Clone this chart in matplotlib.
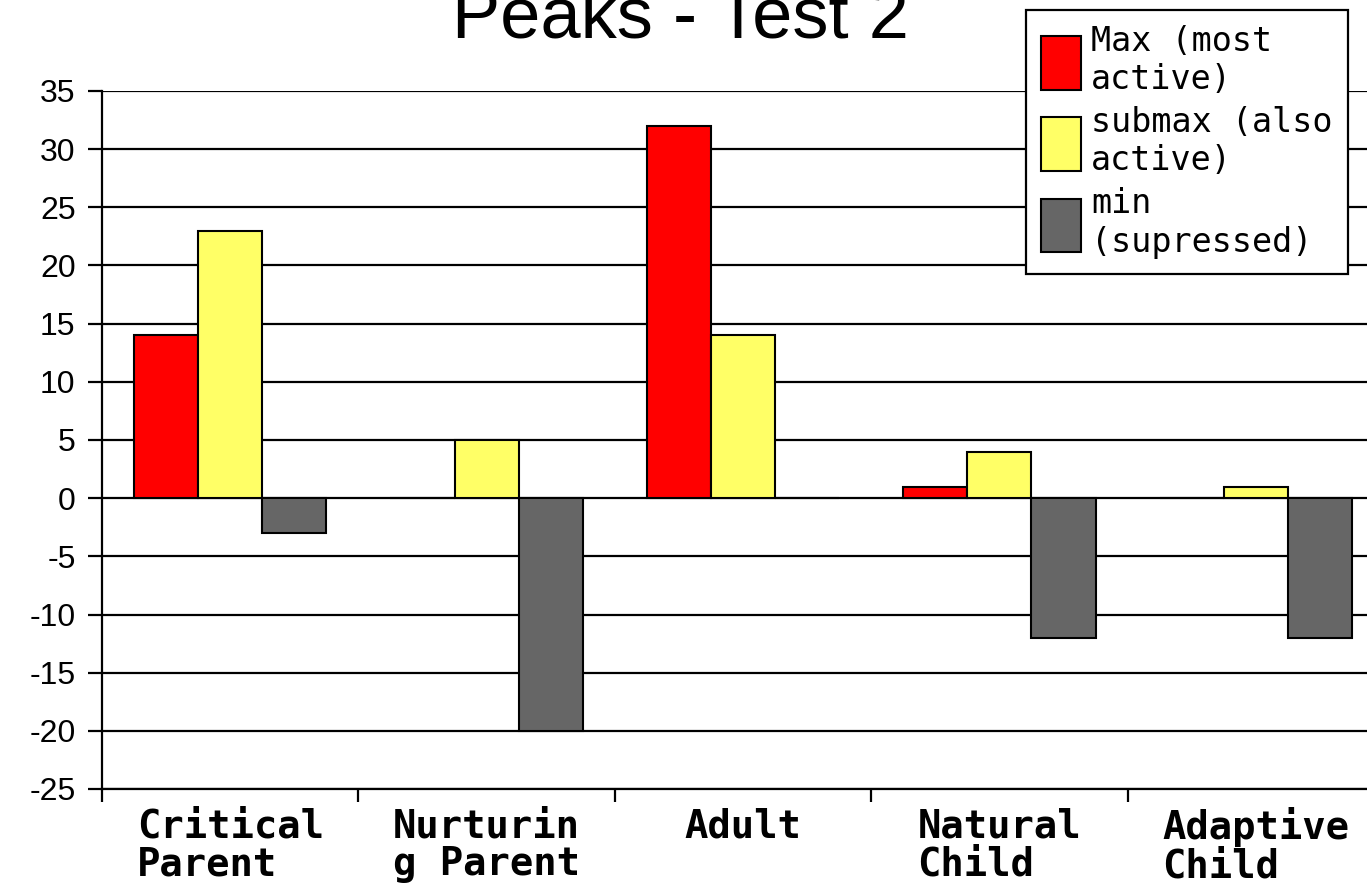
import numpy as np
import matplotlib
matplotlib.use("Agg")
import matplotlib.pyplot as plt
from matplotlib.ticker import FixedLocator, NullFormatter, FixedFormatter
from matplotlib.legend_handler import HandlerPatch
from matplotlib.patches import Rectangle

plt.rcParams["axes.unicode_minus"] = False

categories = ["Critical\nParent", "Nurturin\ng Parent", "Adult", "Natural\nChild", "Adaptive\nChild"]
max_vals = [14, 0, 32, 1, 0]
submax_vals = [23, 5, 14, 4, 1]
min_vals = [-3, -20, 0, -12, -12]
series_names = ["Max (most\nactive)", "submax (also\nactive)", "min\n(supressed)"]
colors = ["#ff0000", "#ffff66", "#666666"]

fig = plt.figure(figsize=(13.67, 8.86), dpi=100)
# axes run slightly past the right edge, like the original
ax = fig.add_axes([102 / 1367, 1 - 789 / 886, 1282 / 1367, (789 - 91) / 886])

x = np.arange(len(categories)) + 0.5
w = 0.25
for i, (vals, name, col) in enumerate(zip([max_vals, submax_vals, min_vals], series_names, colors)):
    ax.bar(x + (i - 1) * w, vals, width=w, color=col, edgecolor="black",
           linewidth=1.5, label=name, zorder=3)

ax.set_xlim(0, len(categories))
ax.set_ylim(-25, 35)
ax.set_yticks(np.arange(-25, 36, 5))
ax.yaxis.grid(True, color="black", linewidth=1.6, zorder=0)
ax.set_axisbelow(True)

for s in ["top", "right"]:
    ax.spines[s].set_visible(False)
for s in ["left", "bottom"]:
    ax.spines[s].set_linewidth(1.6)

ax.tick_params(axis="y", direction="out", length=10, width=1.6, pad=9,
               labelsize=23, labelfontfamily="Liberation Sans")

# boundary ticks (major) and centered labels (minor)
ax.xaxis.set_major_locator(FixedLocator(np.arange(len(categories) + 1)))
ax.xaxis.set_major_formatter(NullFormatter())
ax.xaxis.set_minor_locator(FixedLocator(x))
ax.xaxis.set_minor_formatter(FixedFormatter(categories))
ax.tick_params(axis="x", which="major", direction="out", length=9, width=1.6)
ax.tick_params(axis="x", which="minor", length=0, pad=13)
for lbl in ax.get_xticklabels(minor=True):
    lbl.set_fontfamily("DejaVu Sans Mono")
    lbl.set_fontweight("bold")
    lbl.set_fontsize(28)
    lbl.set_multialignment("left")
    lbl.set_linespacing(1.0)

fig.text(680 / 1367, 1 - 38 / 886, "Peaks - Test 2", ha="center", va="baseline",
         fontsize=52, family="Liberation Sans")


# legend swatch sits next to the first line of the label
def top_swatch(legend, orig_handle, xdescent, ydescent, width, height, fontsize):
    h = 0.95 * fontsize
    return Rectangle((-xdescent, -ydescent + height - h - 0.1 * fontsize), width, h)


leg = ax.legend(loc="upper left", bbox_to_anchor=(1026 / 1367, 1 - 10 / 886),
                bbox_transform=fig.transFigure, fancybox=False, framealpha=1,
                edgecolor="black", prop={"family": "DejaVu Sans Mono", "size": 24},
                handlelength=1.2, handleheight=2.1, handletextpad=0.3,
                borderpad=0.45, labelspacing=0.3, borderaxespad=0,
                handler_map={Rectangle: HandlerPatch(patch_func=top_swatch)})
leg.get_frame().set_linewidth(1.6)

fig.savefig("out.png", dpi=100)
